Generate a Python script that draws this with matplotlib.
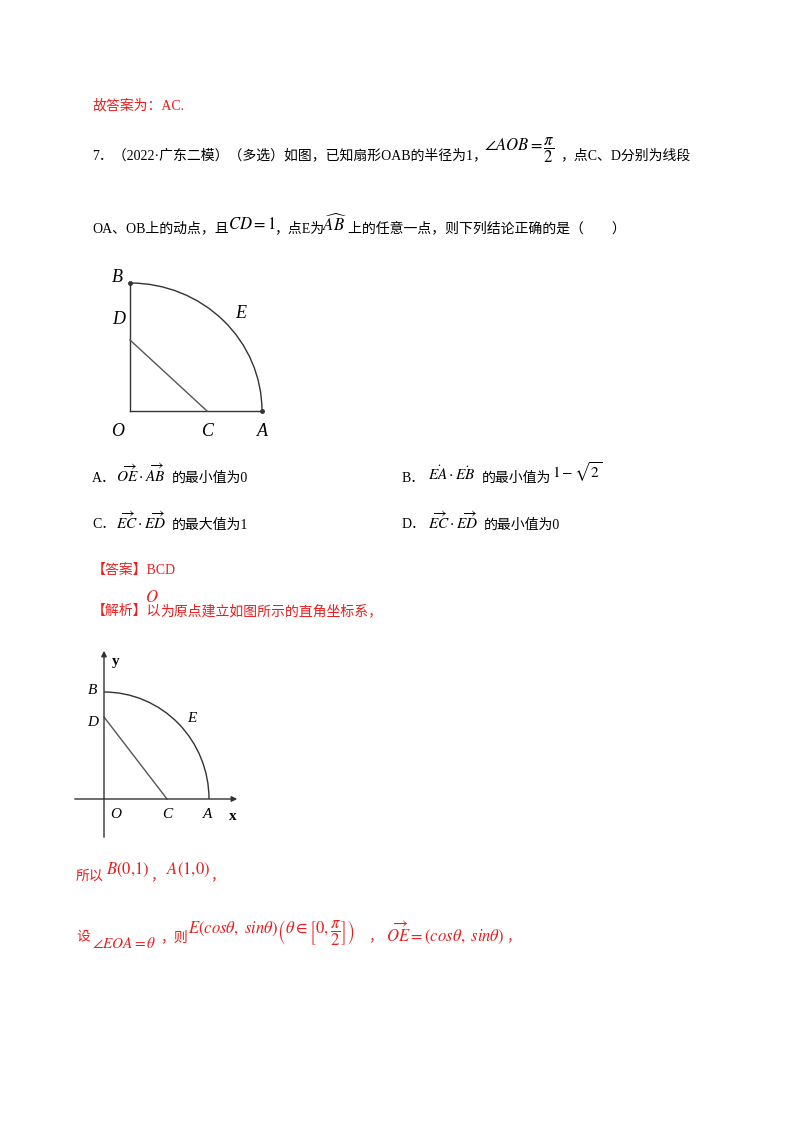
import matplotlib.pyplot as plt
from matplotlib.patches import Arc

plt.rcParams['mathtext.fontset'] = 'stix'
FAM = ['Liberation Serif', 'Noto Sans CJK SC']
RED = '#ee1c1c'

# diagram 1 (pixel coords)
O1 = (130, 411)
R1 = (132, 128)
C1 = (207, 411)
D1 = (130, 340)
labels1 = ['B', 'D', 'E', 'O', 'C', 'A']
lab1_xy = [(117, 277), (119, 320), (241, 313), (118, 431), (208, 431), (262, 431)]

# diagram 2
O2 = (104, 799)
R2 = (105, 107)
C2 = (167, 799)
D2 = (104, 717)
labels2 = ['y', 'B', 'D', 'E', 'O', 'C', 'A', 'x']
lab2_xy = [(116, 661), (93, 691), (93, 722), (192, 719), (116, 815), (167, 815), (208, 815), (233, 816)]

fig = plt.figure(figsize=(8, 11.32), dpi=100)
ax = fig.add_axes([0, 0, 1, 1])
ax.set_xlim(0, 800)
ax.set_ylim(1132, 0)
ax.axis('off')


def t(x, y, s, c='black', size=10, **kw):
    ax.text(x, y, s, color=c, fontsize=size, family=FAM, va='center', ha='left', **kw)


def m(x, y, s, c='black', size=11, **kw):
    ax.text(x, y, s, color=c, fontsize=size, va='center', ha='left', **kw)


t(92, 106, '故答案为：AC.', RED)
t(92, 155, '7．（2022·广东二模）（多选）如图，已知扇形OAB的半径为1，')
m(484, 150, r'$\angle AOB=\dfrac{\pi}{2}$', size=12)
t(560, 155, '，点C、D分别为线段')
t(92, 228, 'OA、OB上的动点，且')
m(228, 224, r'$CD=1$', size=12)
t(274, 228, '，点E为')
m(322, 224, r'$\widehat{AB}$', size=12)
t(348, 228, '上的任意一点，则下列结论正确的是（        ）')

# diagram 1
ax.add_patch(Arc(O1, 2 * R1[0], 2 * R1[1], theta1=-90, theta2=0, color='#333', lw=1))
ax.plot([O1[0], O1[0]], [O1[1], O1[1] - R1[1]], color='#333', lw=1)
ax.plot([O1[0], O1[0] + R1[0]], [O1[1], O1[1]], color='#333', lw=1)
ax.plot([D1[0], C1[0]], [D1[1], C1[1]], color='#555', lw=1)
ax.plot([O1[0], O1[0] + R1[0]], [O1[1] - R1[1], O1[1]], 'o', color='#333', ms=2.5)
for s, (x, y) in zip(labels1, lab1_xy):
    ax.text(x, y, s, fontsize=13, style='italic', family='Liberation Serif', ha='center', va='center')

t(92, 478, 'A．')
m(116, 474, r'$\overrightarrow{OE}\cdot\overrightarrow{AB}$')
t(172, 478, '的最小值为0')
t(402, 478, 'B．')
m(428, 474, r'$\dot{EA}\cdot\dot{EB}$')
t(482, 478, '的最小值为')
m(552, 472, r'$1-\sqrt{2}$', size=11)
t(92, 525, 'C．')
m(116, 521, r'$\overrightarrow{EC}\cdot\overrightarrow{ED}$')
t(172, 525, '的最大值为1')
t(402, 525, 'D．')
m(428, 521, r'$\overrightarrow{EC}\cdot\overrightarrow{ED}$')
t(484, 525, '的最小值为0')

t(92, 570, '【答案】BCD', RED)
t(92, 611, '【解析】以', RED)
m(145, 597, r'$O$', RED, size=12)
t(160, 611, '为原点建立如图所示的直角坐标系，', RED)

# diagram 2
ax.annotate('', xy=(240, O2[1]), xytext=(72, O2[1]),
            arrowprops=dict(arrowstyle='-|>', color='#333', lw=1, mutation_scale=8))
ax.annotate('', xy=(O2[0], 648), xytext=(O2[0], 840),
            arrowprops=dict(arrowstyle='-|>', color='#333', lw=1, mutation_scale=8))
ax.add_patch(Arc(O2, 2 * R2[0], 2 * R2[1], theta1=-90, theta2=0, color='#333', lw=1))
ax.plot([D2[0], C2[0]], [D2[1], C2[1]], color='#555', lw=1)
for s, (x, y) in zip(labels2, lab2_xy):
    bold = s in ('x', 'y')
    ax.text(x, y, s, fontsize=11, style='normal' if bold else 'italic',
            weight='bold' if bold else 'normal', family='Liberation Serif', ha='center', va='center')

t(76, 876, '所以', RED)
m(106, 870, r'$B\left(0{,}1\right)$', RED, size=12)
t(150, 876, '，', RED)
m(166, 870, r'$A\left(1{,}0\right)$', RED, size=12)
t(210, 876, '，', RED)

t(76, 937, '设', RED)
m(92, 943, r'$\angle EOA=\theta$', RED, size=11)
t(160, 937, '，则', RED)
m(188, 933, r'$E\left(cos\theta,\ sin\theta\right)\left(\theta\in\left[0,\dfrac{\pi}{2}\right]\right)$', RED, size=12)
t(368, 937, '，', RED)
m(386, 933, r'$\overrightarrow{OE}=\left(cos\theta,\ sin\theta\right)$', RED, size=12)
t(506, 937, '，', RED)

fig.savefig('out.png', dpi=100)
